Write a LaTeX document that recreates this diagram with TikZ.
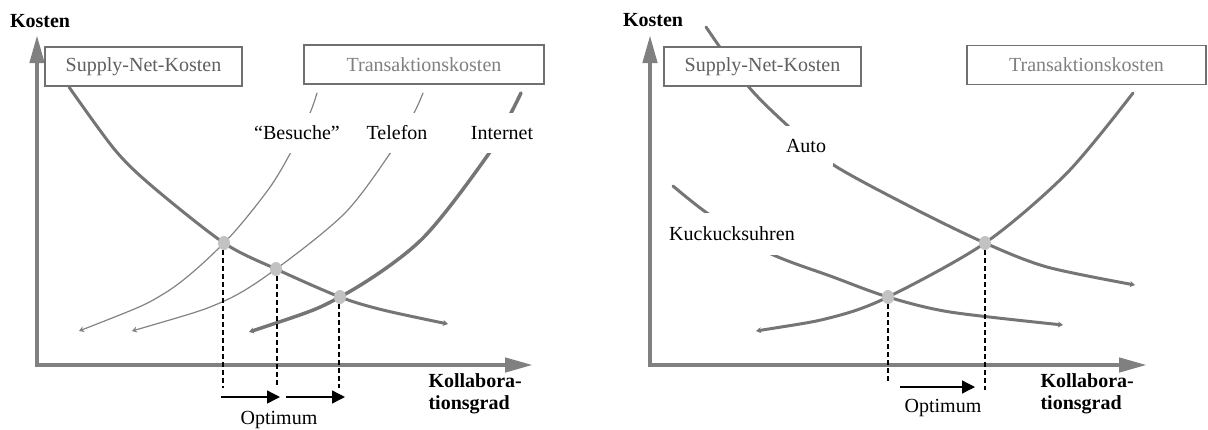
\documentclass[tikz,border=0pt]{standalone}
\usepackage{fontspec}
\setmainfont{Liberation Serif}
\usetikzlibrary{arrows.meta}
\definecolor{axisgray}{HTML}{808080}
\definecolor{curvegray}{HTML}{757575}
\definecolor{boxgray}{HTML}{707070}
\definecolor{dotgray}{HTML}{C2C2C2}
\tikzset{
	axisline/.style={draw=axisgray, line width=4.5pt, -{Triangle[length=28pt,width=14pt]}},
	costbox/.style={draw=boxgray, line width=1.5pt, fill=white, minimum width=#1, minimum height=39pt, inner sep=0pt},
	costcurve/.style={draw=curvegray, line width=3pt, line cap=round},
	thincurve/.style={draw=curvegray!90!white, line width=1.2pt, line cap=round},
	endtip/.style={{Stealth[length=5pt,width=6pt]}-},
	curvelabel/.style={fill=white, inner xsep=3pt, minimum height=#1},
	eqdot/.style={ellipse, fill=dotgray, minimum width=12pt, minimum height=14pt, inner sep=0pt},
	guide/.style={black, line width=1.4pt, dash pattern=on 5pt off 3pt},
	optarrow/.style={black, line width=1.4pt, -{Triangle[length=13pt,width=13pt]}},
	bigtext/.style={font=\fontsize{20}{22}\selectfont}
}
\usetikzlibrary{shapes.geometric}
\begin{document}
\begin{tikzpicture}[x=1pt, y=-1pt, bigtext]
	\useasboundingbox (0,0) rectangle (1208,429);
	% left chart
	\coordinate (lorigin) at (37,365);
	\draw[axisline] (37,367) -- (37,35);
	\draw[axisline] (35,365) -- (533,365);
	\node[font=\fontsize{20}{22}\selectfont\bfseries] (lkosten) at (40,21) {Kosten};
	\node[align=left, anchor=west, font=\fontsize{20}{22}\selectfont\bfseries] (lgrad) at (425,394) {Kollabora-\\tionsgrad};
	\draw[thincurve, endtip] plot[smooth] coordinates {(79,331) (165,293) (224,243) (268,190) (291,152) (310,113) (317,93)};
	\draw[thincurve, endtip] plot[smooth] coordinates {(132,331) (222,302) (276,269) (345,213) (391,152) (414,113) (423,93)};
	\draw[costcurve, line width=3.5pt, endtip] plot[smooth] coordinates {(249,332) (340,297) (421,240) (490,152) (511,113) (521,93)};
	\draw[costcurve, -{Stealth[length=5pt,width=6pt]}] plot[smooth] coordinates {(69,87) (115,150) (153,187) (224,243) (276,269) (340,297) (383,310) (448,324)};
	\node[curvelabel=40pt] (besuche) at (297,133) {“Besuche”};
	\node[curvelabel=40pt] (telefon) at (397,133) {Telefon};
	\node[curvelabel=40pt] (internet) at (502,133) {Internet};
	\node[costbox=197pt, text=boxgray!85!black] (lsupply) at (143.5,66.5) {Supply-Net-Kosten};
	\node[costbox=240pt, text=axisgray] (ltrans) at (424,64.5) {Transaktionskosten};
	\node[eqdot] (lopt1) at (224,243) {};
	\node[eqdot] (lopt2) at (276,269) {};
	\node[eqdot] (lopt3) at (340,297) {};
	\coordinate (lfoot1) at (223,388);
	\coordinate (lfoot2) at (277,388);
	\coordinate (lfoot3) at (339,388);
	\draw[guide] (lopt1.south -| lfoot1) -- (lfoot1);
	\draw[guide] (lopt2.south -| lfoot2) -- (lfoot2);
	\draw[guide] (lopt3.south -| lfoot3) -- (lfoot3);
	\draw[optarrow] (221,397) -- (280,397);
	\draw[optarrow] (286,397) -- (345,397);
	\node (loptimum) at (279,420) {Optimum};
	% right chart
	\coordinate (rorigin) at (650,365);
	\draw[axisline] (650,367) -- (650,35);
	\draw[axisline] (648,365) -- (1147,365);
	\node[font=\fontsize{20}{22}\selectfont\bfseries] (rkosten) at (653,20) {Kosten};
	\node[align=left, anchor=west, font=\fontsize{20}{22}\selectfont\bfseries] (rgrad) at (1037,394) {Kollabora-\\tionsgrad};
	\draw[costcurve, -{Stealth[length=5pt,width=6pt]}] plot[smooth] coordinates {(706,27) (748,86) (788,126) (832,164) (911,207) (985,243) (1047,267) (1135,285)};
	\draw[costcurve, -{Stealth[length=5pt,width=6pt]}] plot[smooth] coordinates {(673,186) (707,213) (767,252) (833,277) (888,297) (950,312) (1063,325)};
	\draw[costcurve, endtip] plot[smooth] coordinates {(756,331) (833,317) (888,297) (985,243) (1067,173) (1133,93)};
	\node[curvelabel=40pt, minimum width=54pt] (auto) at (806,146) {Auto};
	\node[curvelabel=42pt] (kuckuck) at (732,234) {Kuckucksuhren};
	\node[costbox=197pt, text=boxgray!85!black] (rsupply) at (762.5,66.5) {Supply-Net-Kosten};
	\node[costbox=239pt, text=axisgray] (rtrans) at (1086.5,65) {Transaktionskosten};
	\node[eqdot] (ropt1) at (888,297) {};
	\node[eqdot] (ropt2) at (985,243) {};
	\coordinate (rfoot1) at (888,383);
	\coordinate (rfoot2) at (985,390);
	\draw[guide] (ropt1.south) -- (rfoot1);
	\draw[guide] (ropt2.south) -- (rfoot2);
	\draw[optarrow] (900,387) -- (975,387);
	\node (roptimum) at (943,408) {Optimum};
\end{tikzpicture}
\end{document}
